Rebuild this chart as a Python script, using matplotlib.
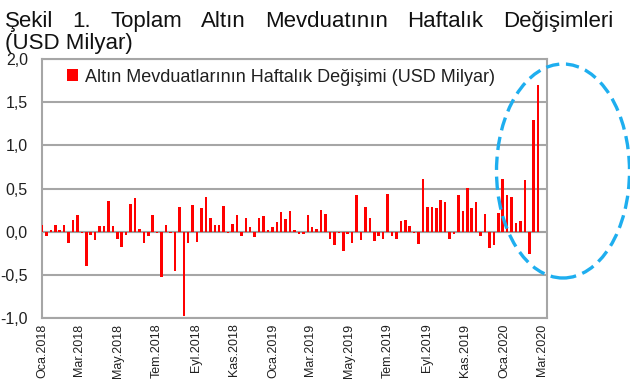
import matplotlib
matplotlib.use("Agg")
import matplotlib.pyplot as plt
import matplotlib.dates as mdates
from matplotlib.patches import Ellipse
import numpy as np
import datetime as dt

plt.rcParams['font.family'] = ['Liberation Sans', 'DejaVu Sans']

title_line1 = "Şekil 1. Toplam Altın Mevduatının Haftalık Değişimleri"
title_line2 = "(USD Milyar)"
series_name = "Altın Mevduatlarının Haftalık Değişimi (USD Milyar)"

start_date = dt.date(2018, 1, 5)
values = [
    0.08, -0.05, 0.02, 0.08, 0.02, 0.08, -0.13, 0.13, 0.19, -0.02,
    -0.40, -0.04, -0.10, 0.07, 0.07, 0.35, 0.07, -0.08, -0.18, -0.04,
    0.32, 0.39, 0.03, -0.13, -0.05, 0.19, -0.02, -0.52, 0.08, -0.02,
    -0.46, 0.28, -0.98, -0.13, 0.31, -0.12, 0.27, 0.40, 0.16, 0.08,
    0.08, 0.30, -0.02, 0.09, 0.19, -0.05, 0.16, 0.05, -0.06, 0.16,
    0.18, 0.02, 0.05, 0.11, 0.23, 0.15, 0.24, 0.02, -0.03, -0.03,
    0.19, 0.05, 0.03, 0.25, 0.20, -0.08, -0.15, -0.02, -0.22, -0.03,
    -0.13, 0.43, -0.10, 0.29, 0.16, -0.11, -0.05, -0.08, 0.44, -0.05,
    -0.09, 0.12, 0.14, 0.07, -0.02, -0.14, 0.61, 0.29, 0.28, 0.27,
    0.37, 0.34, -0.09, -0.03, 0.43, 0.24, 0.51, 0.27, 0.34, -0.05,
    0.21, -0.19, -0.15, 0.22, 0.61, 0.43, 0.40, 0.10, 0.12, 0.60,
    -0.26, 1.29, 1.70,
]
dates = [start_date + dt.timedelta(weeks=i) for i in range(len(values))]

tr_months = ["Oca", "Şub", "Mar", "Nis", "May", "Haz", "Tem", "Ağu", "Eyl", "Eki", "Kas", "Ara"]
tick_dates = []
y, m = 2018, 1
while (y, m) <= (2020, 3):
    tick_dates.append(dt.date(y, m, 5))
    m += 2
    if m > 12:
        m -= 12
        y += 1
tick_labels = [f"{tr_months[d.month-1]}.{d.year}" for d in tick_dates]

y_ticks = [-1.0, -0.5, 0.0, 0.5, 1.0, 1.5, 2.0]
y_labels = [f"{v:.1f}".replace(".", ",") for v in y_ticks]

W, H = 630, 385
fig = plt.figure(figsize=(W/100, H/100), dpi=100)
ax = fig.add_axes([41.7/W, 1-318/H, (547-41.7)/W, (318-59)/H])

xn = mdates.date2num(dates)
ax.bar(xn, values, width=4.0, color="#FF0000", zorder=3, label=series_name)
ax.axhline(0, color="#A0A0A0", lw=1.5, zorder=2)

ax.set_xlim(mdates.date2num(dt.date(2018, 1, 4)) + 0.5, mdates.date2num(dt.date(2020, 3, 13)))
ax.set_ylim(-1.0, 2.0)
ax.set_yticks(y_ticks)
ax.set_yticklabels(y_labels, fontsize=11.5, color="#202020")
ax.set_xticks(mdates.date2num(tick_dates))
ax.set_xticklabels(tick_labels, rotation=90, fontsize=9, color="#202020")
ax.tick_params(axis='x', length=0, pad=4)
ax.tick_params(axis='y', length=0, pad=10)
ax.grid(axis='y', color="#A6A6A6", lw=1.5, zorder=0)
for s in ax.spines.values():
    s.set_color("#A6A6A6")
    s.set_linewidth(1.5)

leg = ax.legend(loc="upper left", bbox_to_anchor=(0.035, 0.99), frameon=False,
                fontsize=13, handlelength=0.65, handleheight=0.65, handletextpad=0.35,
                borderaxespad=0)
for t in leg.get_texts():
    t.set_color("#202020")

# justified title line 1
words = title_line1.split()
tfs = 16
texts = [fig.text(0, 1-27/H, w, fontsize=tfs, va='baseline', ha='left', color="#111111") for w in words]
fig.canvas.draw()
r = fig.canvas.get_renderer()
widths = [t.get_window_extent(r).width for t in texts]
x_left, x_right = 5, 613
gap = (x_right - x_left - sum(widths)) / (len(words) - 1)
x = x_left
for t, w in zip(texts, widths):
    t.set_x(x / W)
    x += w + gap
fig.text(x_left / W, 1-49/H, title_line2, fontsize=tfs, va='baseline', ha='left', color="#111111")

ell = Ellipse((563/W, 1-171/H), 133/W, 214/H, transform=fig.transFigure,
              fill=False, edgecolor="#1EAEEF", lw=2.4, linestyle=(0, (4, 2)), clip_on=False)
fig.patches.append(ell)

fig.savefig("out.png", dpi=100)
